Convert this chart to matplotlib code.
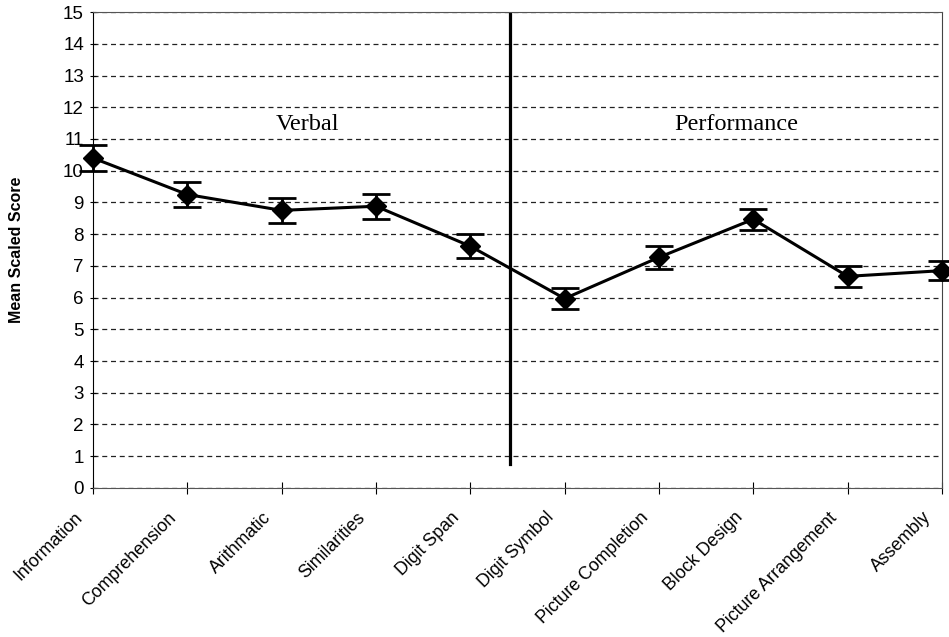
import matplotlib
matplotlib.use("Agg")
import matplotlib.pyplot as plt

# subtests and mean scaled scores
subtests = ["Information", "Comprehension", "Arithmatic", "Similarities", "Digit Span",
            "Digit Symbol", "Picture Completion", "Block Design", "Picture Arrangement", "Assembly"]
means = [10.4, 9.25, 8.75, 8.88, 7.62, 5.97, 7.27, 8.47, 6.67, 6.85]
errors = [0.4, 0.4, 0.4, 0.4, 0.37, 0.33, 0.36, 0.33, 0.34, 0.31]

divider_x = 4.42
divider_bottom = 0.74

plt.rcParams["font.family"] = ["Liberation Sans", "DejaVu Sans"]

fig = plt.figure(figsize=(9.49, 6.37), dpi=100)
ax = fig.add_axes([0.098, 0.234, 0.8946, 0.747])

x = list(range(len(subtests)))
ax.errorbar(x, means, yerr=errors, color="black", lw=2.2, marker="D", ms=10,
            capsize=10, capthick=2, elinewidth=2, zorder=3, clip_on=False)

# verbal / performance split
ax.plot([divider_x, divider_x], [divider_bottom, 15], color="black", lw=2.3, zorder=2)
ax.text(2.27, 11.45, "Verbal", family="Liberation Serif", fontsize=17.5, ha="center", va="center")
ax.text(6.82, 11.45, "Performance", family="Liberation Serif", fontsize=17.5, ha="center", va="center")

ax.set_xlim(0, 9)
ax.set_ylim(0, 15)
ax.set_yticks(range(0, 16))
ax.set_xticks(x)
ax.tick_params(axis="x", direction="inout", length=8, width=0.8, labelbottom=False)
ax.tick_params(axis="y", direction="inout", length=5, width=0.8, labelsize=13.5, pad=4)

# slanted category names, ending a little left of and below each tick
for xi, name in zip(x, subtests):
    ax.annotate(name, (xi, 0), xycoords=("data", "axes fraction"),
                xytext=(-7.2, -21.8), textcoords="offset points",
                rotation=45, ha="right", va="baseline", rotation_mode="anchor",
                fontsize=12.8, annotation_clip=False)

ax.yaxis.grid(True, linestyle=(0, (4, 3)), color="#222222", lw=0.9)
ax.set_axisbelow(True)

for side in ["top", "bottom"]:
    ax.spines[side].set_color("#555555")
ax.spines["left"].set_color("black")
ax.spines["right"].set_color("#444444")

ax.set_ylabel("Mean Scaled Score", fontsize=11.5, fontweight="bold", labelpad=28)

fig.savefig("out.png", dpi=100)
